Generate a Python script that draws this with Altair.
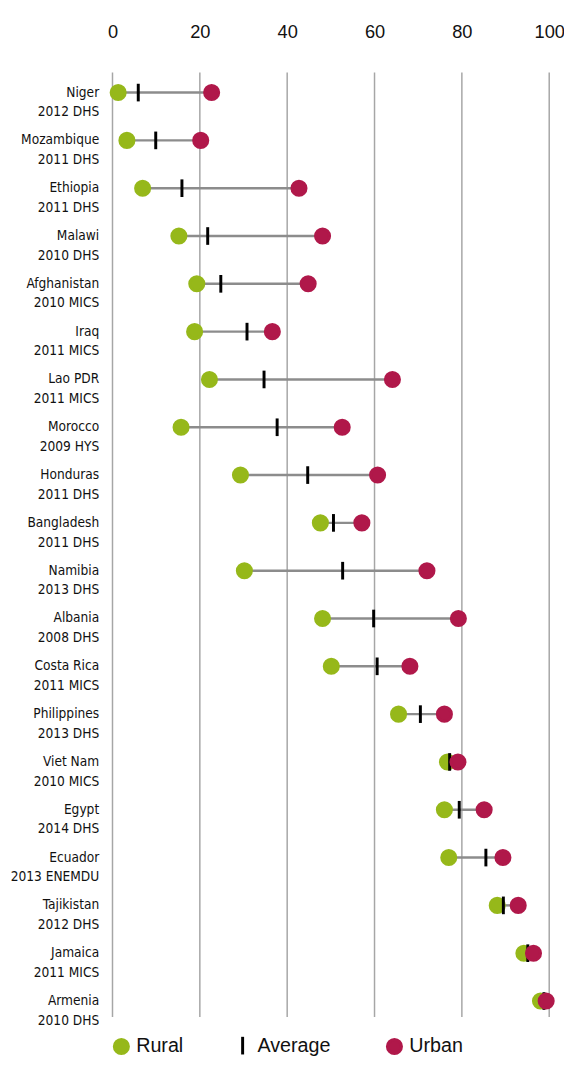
import altair as alt
import pandas as pd

countries = ["Niger", "Mozambique", "Ethiopia", "Malawi", "Afghanistan", "Iraq",
             "Lao PDR", "Morocco", "Honduras", "Bangladesh", "Namibia", "Albania",
             "Costa Rica", "Philippines", "Viet Nam", "Egypt", "Ecuador",
             "Tajikistan", "Jamaica", "Armenia"]
surveys = ["2012 DHS", "2011 DHS", "2011 DHS", "2010 DHS", "2010 MICS", "2011 MICS",
           "2011 MICS", "2009 HYS", "2011 DHS", "2011 DHS", "2013 DHS", "2008 DHS",
           "2011 MICS", "2013 DHS", "2010 MICS", "2014 DHS", "2013 ENEMDU",
           "2012 DHS", "2011 MICS", "2010 DHS"]
rural = [1.3, 3.3, 6.9, 15.2, 19.3, 18.8, 22.2, 15.7, 29.3, 47.6, 30.2, 48.1,
         50.1, 65.5, 76.7, 76.0, 77.0, 88.1, 94.2, 98.0]
average = [5.9, 9.9, 15.9, 21.8, 24.8, 30.8, 34.7, 37.7, 44.7, 50.6, 52.7, 59.8,
           60.6, 70.5, 77.2, 79.4, 85.5, 89.5, 95.1, 98.8]
urban = [22.7, 20.2, 42.7, 48.1, 44.8, 36.6, 64.1, 52.6, 60.7, 57.1, 72.0, 79.2,
         68.1, 76.0, 79.1, 85.1, 89.4, 92.9, 96.4, 99.3]
series = ["Rural", "Average", "Urban"]
x_ticks = [0, 20, 40, 60, 80, 100]

GREEN = "#96b81a"
RED = "#b0184a"
FONT_LABEL = "DejaVu Sans Condensed, Liberation Sans Narrow, sans-serif"
FONT_MAIN = "Liberation Sans, Arial, sans-serif"

labels = [c + "|" + s for c, s in zip(countries, surveys)]

wide = pd.DataFrame({"label": labels, "Rural": rural, "Average": average, "Urban": urban})
long_rows = []
for name, vals in zip(series, [rural, average, urban]):
    for lab, v in zip(labels, vals):
        long_rows.append({"label": lab, "series": name, "value": v})
long = pd.DataFrame(long_rows)
grid = pd.DataFrame({"v": x_ticks})

W, H = 443, 970

xscale = alt.Scale(domain=[0, 100], nice=False)
yenc = alt.Y("label:N", sort=labels, scale=alt.Scale(paddingInner=0, paddingOuter=0),
             axis=alt.Axis(title=None, domain=False, ticks=False, labelAlign="right",
                           labelBaseline="middle", labelPadding=14, labelFontSize=13.8,
                           labelFont=FONT_LABEL, labelColor="#111111",
                           labelLineHeight=20, labelExpr="split(datum.label, '|')"))

gridlines = alt.Chart(grid).mark_rule(color="#a6a6a6", strokeWidth=1.5).encode(
    x=alt.X("v:Q", scale=xscale,
            axis=alt.Axis(orient="top", values=x_ticks, title=None, domain=False,
                          ticks=False, grid=False, labelFontSize=18.5, labelFont=FONT_MAIN,
                          labelColor="#111111", labelPadding=28, labelFlush=False)),
    y=alt.value(4),
    y2=alt.value(H - 8),
)

lines = alt.Chart(wide).mark_rule(color="#8c8c8c", strokeWidth=2.5).encode(
    x=alt.X("Rural:Q", scale=xscale),
    x2="Urban:Q",
    y=yenc,
)

color_scale = alt.Scale(domain=series, range=[GREEN, "#000000", RED])

pts = alt.Chart(long).mark_point(filled=True, strokeWidth=3, opacity=1, size=205).encode(
    x=alt.X("value:Q", scale=xscale),
    y=yenc,
    color=alt.Color("series:N", scale=color_scale,
                    legend=alt.Legend(title=None, orient="none", direction="horizontal",
                                      legendX=-1, legendY=981, columns=3, columnPadding=50,
                                      labelFontSize=20, labelFont=FONT_MAIN,
                                      labelColor="#111111", labelOffset=5,
                                      symbolStrokeWidth=3, symbolSize=205)),
    stroke=alt.Stroke("series:N", scale=color_scale, legend=alt.Legend(title=None)),
    shape=alt.Shape("series:N",
                    scale=alt.Scale(domain=series, range=["circle", "M0,-1.25L0,1.25", "circle"]),
                    legend=alt.Legend(title=None)),
)

chart = alt.layer(gridlines, lines, pts).properties(
    width=W, height=H,
    autosize=alt.AutoSizeParams(type="none"),
    padding={"left": 106, "top": 54, "right": 15, "bottom": 25},
    background="white",
).configure_view(strokeWidth=0)

chart.save("out.html", embed_options={"renderer": "svg", "actions": False})
